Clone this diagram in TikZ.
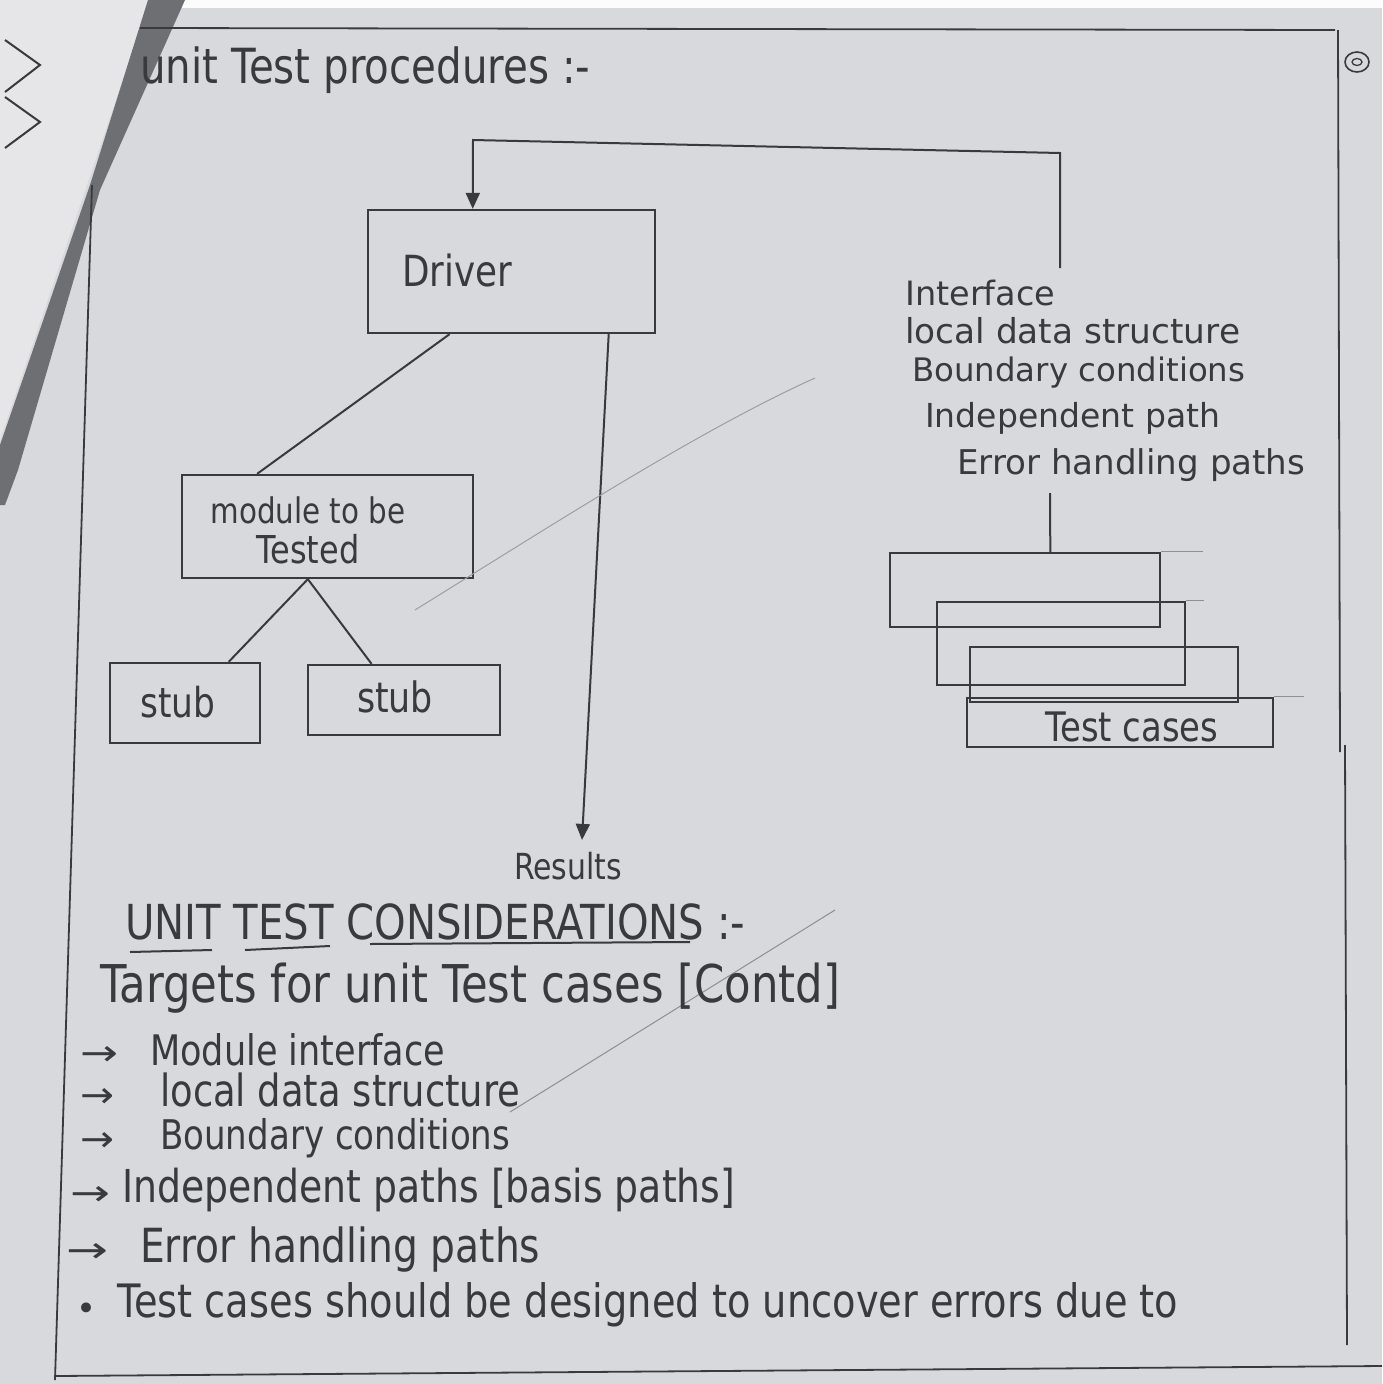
\documentclass[tikz,border=0pt]{standalone}
\usepackage{fontspec}
\setmainfont{DejaVu Sans}
\usetikzlibrary{arrows.meta,calc}
\definecolor{paper}{HTML}{D8D9DC}
\definecolor{ink}{HTML}{3A3A3D}
\definecolor{pencil}{HTML}{8E8F93}
\definecolor{leftpage}{HTML}{E6E6E8}
\definecolor{fold}{HTML}{6E6F73}
\newcommand{\hw}[2]{\scalebox{1}[1.2]{\resizebox{#1pt}{!}{#2}}}
\newcommand{\hwn}[2]{\resizebox{#1pt}{!}{#2}}
\newcommand{\harr}[1]{\resizebox{#1pt}{19pt}{→}}
\begin{document}
\begin{tikzpicture}[x=1pt,y=-1pt,
  every node/.style={text=ink, inner sep=0pt, font=\fontsize{30}{40}\selectfont},
  box/.style={draw=ink, line width=2.3pt},
  wire/.style={draw=ink, line width=2pt},
  faint/.style={draw=pencil, line width=1pt},
  arr/.style={wire, -{Triangle[length=16pt,width=14pt]}},
  lbl/.style={anchor=west}]
% paper
\fill[paper] (0,0) rectangle (1382,1384);
\useasboundingbox (0,0) rectangle (1382,1384);
\fill[white!92!paper] (0,0) rectangle (1382,8);
% left page and fold shadow
\fill[leftpage] (0,0) -- (150,0) -- (0,440) -- cycle;
\draw[ink, line width=2pt] (5,40) -- (40,65) -- (5,92);
\draw[ink, line width=2pt] (5,97) -- (40,122) -- (5,148);
\fill[fold] (148,0) -- (185,0) -- (100,190) -- (18,470) -- (5,505) -- (0,505) -- (0,445) -- (90,185) -- cycle;
% page rules
\draw[ink, line width=1.8pt] (140,28) -- (1335,30);
\draw[ink, line width=1.8pt] (1338,30) -- (1340,752);
\draw[ink, line width=1.8pt] (1345,745) -- (1347,1345);
\draw[ink, line width=1.8pt] (92,185) -- (55,1380);
\draw[ink, line width=1.8pt] (55,1376) -- (1382,1366);
% circled page mark
\draw[ink, line width=1.6pt] (1357,62) ellipse (12pt and 10pt);
\draw[ink, line width=1.3pt] (1357,62) ellipse (5pt and 3.5pt);
% title
\node[lbl] (title) at (140,70) {\hw{450}{unit Test procedures :-}};
% boxes
\node[box, minimum width=287pt, minimum height=123pt] (driver) at (511.5,271.5) {};
\node (driverlbl) at (457,271) {\hw{110}{Driver}};
\node[box, minimum width=291pt, minimum height=103pt] (module) at (327.5,526.5) {};
\node[align=center] (modulelbl) at (308,530) {\hw{195}{module to be}\\\hw{103}{Tested}};
\node[box, minimum width=150pt, minimum height=80pt] (stubA) at (185,703) {};
\node (stubAlbl) at (178,702) {\hw{75}{stub}};
\node[box, minimum width=192pt, minimum height=70pt] (stubB) at (404,700) {};
\node (stubBlbl) at (395,697) {\hw{76}{stub}};
\node (results) at (568,866) {\hw{108}{Results}};
% connectors
\draw[wire] ($(driver.south west)!0.286!(driver.south east)$) -- ($(module.north west)!0.26!(module.north east)$);
\coordinate (modbot) at ($(module.south west)!0.433!(module.south east)$);
\draw[wire] (modbot) -- ($(stubA.north west)!0.787!(stubA.north east)$);
\draw[wire] (modbot) -- ($(stubB.north west)!0.333!(stubB.north east)$);
\draw[arr] ($(driver.south west)!0.836!(driver.south east)$) -- ([xshift=14pt,yshift=12pt]results.north);
% interface list
\node[lbl] (iface1) at (905,293) {\hwn{150}{Interface}};
\node[lbl] (iface2) at (905,331) {\hwn{335}{local data structure}};
\node[lbl] (iface3) at (912,373) {\hwn{333}{Boundary conditions}};
\node[lbl] (iface4) at (925,418) {\hwn{295}{Independent path}};
\node[lbl] (iface5) at (957,465) {\hwn{348}{Error handling paths}};
\coordinate (ifacetop) at (1060,268);
\coordinate (loopR) at (1060,153);
\coordinate (loopL) at (473,140);
\draw[arr] (ifacetop) -- (loopR) -- (loopL) -- ($(driver.north west)!0.366!(driver.north east)$);
% test case stack
\node[box, minimum width=270pt, minimum height=74pt] (tc1) at (1025,590) {};
\node[box, minimum width=248pt, minimum height=83pt] (tc2) at (1061,643.5) {};
\node[box, minimum width=268pt, minimum height=55pt] (tc3) at (1104,674.5) {};
\node[box, minimum width=306pt, minimum height=49pt] (tc4) at (1120,722.5) {};
\node (tclbl) at (1132,727) {\hw{173}{Test cases}};
\coordinate (stackin) at (1050,493);
\draw[wire] (stackin) -- ($(tc1.north west)!0.593!(tc1.north east)$);
\draw[faint] (tc1.north east) -- ++(42,0);
\draw[faint] (tc2.north east) -- ++(18,0);
\draw[faint] (tc4.north east) -- ++(30,0);
% strike lines
\draw[faint, draw=pencil!80!paper] (415,610) .. controls (560,520) and (700,430) .. (815,378);
\draw[faint] (510,1112) -- (835,910);
% considerations
\node[lbl] (head) at (125,922) {\hw{620}{UNIT TEST CONSIDERATIONS :-}};
\draw[wire] (130,952) -- (212,950);
\draw[wire] (245,950) -- (330,946);
\draw[wire] (370,944) -- (690,942);
\node[lbl] (targets) at (100,988) {\hw{740}{Targets for unit Test cases [Contd]}};
\node[lbl] (a1) at (80,1056) {\harr{38}};
\node[lbl] (t1) at (150,1050) {\hw{295}{Module interface}};
\node[lbl] (a2) at (80,1098) {\harr{34}};
\node[lbl] (t2) at (160,1090) {\hw{360}{local data structure}};
\node[lbl] (a3) at (80,1142) {\harr{34}};
\node[lbl] (t3) at (160,1138) {\hw{350}{Boundary conditions}};
\node[lbl] (a4) at (70,1196) {\harr{40}};
\node[lbl] (t4) at (122,1190) {\hw{613}{Independent paths [basis paths]}};
\node[lbl] (a5) at (66,1253) {\harr{42}};
\node[lbl] (t5) at (140,1250) {\hw{400}{Error handling paths}};
\node[lbl] (b6) at (76,1312) {\hwn{20}{•}};
\node[lbl] (t6) at (117,1305) {\hw{1061}{Test cases should be designed to uncover errors due to}};
\end{tikzpicture}
\end{document}
